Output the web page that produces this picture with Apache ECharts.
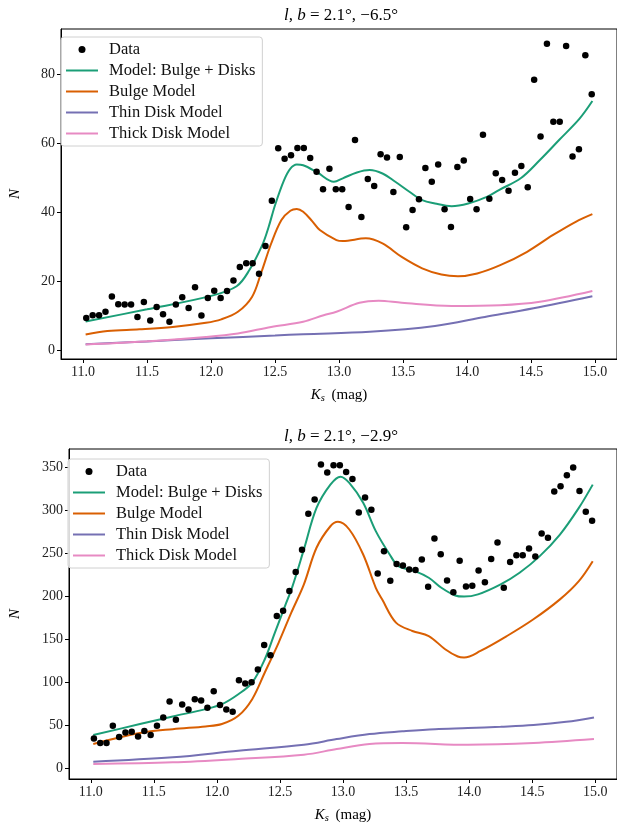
<!DOCTYPE html>
<html>
<head>
<meta charset="utf-8">
<script src="https://cdn.jsdelivr.net/npm/echarts@6/dist/echarts.min.js"></script>
<style>
  html, body { margin: 0; padding: 0; background: #fff; }
  #chart { width: 617px; height: 825px; }
</style>
</head>
<body>
<div id="chart"></div>
<script>
// magnitude bins of the data points (same for both fields)
var ksBins = [];
for (var i = 0; i < 80; i++) ksBins.push(+(11.025 + 0.05 * i).toFixed(3));

// field 1: l,b = 2.1, -6.5
var countsTop = [
  9.4, 10.2, 10.2, 11.2, 15.6, 13.4, 13.3, 13.3, 9.7, 14.0,
  8.7, 12.6, 10.5, 8.3, 13.3, 15.4, 12.3, 18.3, 10.1, 15.2,
  17.3, 15.2, 17.2, 20.3, 24.2, 25.3, 25.3, 22.2, 30.3, 43.4,
  58.6, 55.6, 56.6, 58.7, 58.7, 55.8, 51.8, 46.7, 52.7, 46.7,
  46.7, 41.6, 61.0, 38.7, 49.7, 47.7, 56.9, 55.9, 45.9, 56.1,
  35.7, 40.7, 43.8, 52.9, 48.9, 53.9, 40.9, 35.8, 53.2, 55.1,
  43.9, 40.9, 62.5, 44.0, 51.4, 49.4, 46.3, 51.5, 53.5, 47.3,
  78.5, 62.0, 88.9, 66.3, 66.3, 88.3, 56.2, 58.3, 85.6, 74.3
];
var totalTopK = [11.02, 11.5, 12.0, 12.2, 12.3, 12.4, 12.45, 12.5, 12.57, 12.62, 12.67, 12.72, 12.83, 12.96, 13.03, 13.14, 13.24, 13.34, 13.44, 13.55, 13.65, 13.75, 13.88, 14.01, 14.16, 14.25, 14.42, 14.57, 14.72, 14.88, 14.98];
var totalTop = [8.4, 11.9, 15.8, 18.6, 23.3, 30.5, 35.8, 42.1, 49.3, 52.7, 53.9, 53.7, 51.6, 48.9, 49.9, 51.6, 52.3, 51.3, 48.9, 46.0, 43.6, 42.6, 41.8, 42.6, 44.6, 46.5, 49.9, 55.2, 61.0, 67.2, 72.3];
var bulgeTopK = [11.02, 11.19, 11.44, 11.7, 11.96, 12.08, 12.21, 12.32, 12.39, 12.47, 12.55, 12.62, 12.67, 12.72, 12.79, 12.85, 12.98, 13.03, 13.21, 13.34, 13.49, 13.65, 13.8, 13.93, 14.08, 14.26, 14.47, 14.67, 14.85, 14.98];
var bulgeTop = [4.6, 5.6, 6.1, 6.8, 8.0, 9.0, 11.2, 15.5, 22.3, 31.0, 37.8, 40.5, 41.0, 40.2, 37.5, 34.9, 32.0, 31.7, 32.5, 31.0, 27.1, 23.8, 22.0, 21.5, 22.3, 24.7, 28.6, 33.4, 37.3, 39.5];
var thinTopK = [11.02, 11.5, 12.0, 12.5, 12.72, 13.24, 13.75, 14.14, 14.52, 14.98];
var thinTop = [1.8, 2.6, 3.5, 4.3, 4.7, 5.4, 7.1, 9.7, 12.2, 15.7];
var thickTopK = [11.02, 11.44, 11.96, 12.21, 12.47, 12.72, 12.88, 12.98, 13.16, 13.31, 13.49, 13.88, 14.26, 14.57, 14.98];
var thickTop = [1.7, 2.5, 3.9, 4.9, 6.8, 8.3, 10.2, 11.2, 13.8, 14.4, 13.8, 12.9, 13.1, 14.1, 17.2];

// field 2: l,b = 2.1, -2.9
var countsBottom = [
  34.5, 29.1, 29.1, 49.2, 36.0, 41.5, 42.2, 36.8, 43.0, 38.4,
  49.2, 58.9, 77.5, 56.2, 74.0, 68.2, 80.2, 78.7, 70.1, 89.5,
  73.3, 68.2, 65.5, 102.3, 98.4, 100.0, 114.7, 143.4, 131.4, 177.1,
  183.3, 206.2, 228.3, 254.3, 296.2, 312.8, 353.5, 344.2, 352.7, 352.7,
  345.0, 336.8, 297.7, 315.1, 300.8, 226.7, 252.7, 218.2, 237.6, 236.0,
  231.4, 230.6, 243.0, 211.3, 267.4, 249.2, 218.6, 204.7, 241.5, 211.6,
  212.4, 230.2, 216.3, 243.4, 262.8, 210.1, 239.9, 248.0, 248.0, 255.8,
  246.5, 273.3, 268.2, 322.1, 328.3, 341.1, 350.0, 322.9, 298.5, 288.0
];
var totalBottomK = [11.02, 11.39, 11.65, 11.91, 12.04, 12.17, 12.28, 12.38, 12.46, 12.54, 12.6, 12.69, 12.79, 12.9, 12.98, 13.05, 13.16, 13.26, 13.37, 13.44, 13.57, 13.68, 13.78, 13.89, 13.96, 14.07, 14.25, 14.4, 14.56, 14.72, 14.87, 14.98];
var totalBottom = [38.4, 51.2, 60.1, 68.6, 74.4, 86.0, 99.6, 126.7, 157.8, 188.7, 212, 254.7, 303, 330.2, 339.5, 332.2, 309, 276, 248.8, 235.2, 229.4, 221.7, 210, 201, 199.7, 202.3, 214, 227.5, 246.9, 272, 303.1, 330.2];
var bulgeBottomK = [11.02, 11.39, 11.65, 11.91, 12.04, 12.17, 12.28, 12.38, 12.49, 12.59, 12.69, 12.79, 12.9, 12.96, 13.05, 13.16, 13.26, 13.31, 13.42, 13.55, 13.68, 13.81, 13.91, 13.96, 14.09, 14.3, 14.51, 14.72, 14.87, 14.98];
var bulgeBottom = [27.9, 40.7, 45.3, 48.5, 51.2, 60.8, 80.2, 111.3, 146.2, 181, 214, 256.6, 281.7, 286.8, 277.9, 248.8, 210, 196.5, 169.4, 159.7, 153.8, 138.4, 129.9, 128.7, 136.4, 153.8, 173.3, 196.5, 217.8, 241];
var thinBottomK = [11.02, 11.65, 12.17, 12.69, 12.95, 13.21, 13.47, 13.73, 13.99, 14.25, 14.51, 14.77, 14.99];
var thinBottom = [7.4, 12.4, 20.1, 27.1, 33.7, 39.5, 42.7, 45.3, 46.5, 48.0, 50.0, 53.8, 58.9];
var thickBottomK = [11.02, 11.65, 12.17, 12.69, 12.95, 13.21, 13.47, 13.99, 14.51, 14.99];
var thickBottom = [4.7, 6.6, 10.5, 15.5, 22.1, 27.9, 29.1, 27.1, 29.1, 33.7];

var xTicks = [11, 11.5, 12, 12.5, 13, 13.5, 14, 14.5, 15];
var yTicksTop = [0, 20, 40, 60, 80];
var yTicksBottom = [0, 50, 100, 150, 200, 250, 300, 350];
var seriesNames = ['Data', 'Model: Bulge + Disks', 'Bulge Model', 'Thin Disk Model', 'Thick Disk Model'];
var colors = ['#000000', '#1b9e77', '#d95f02', '#7570b3', '#e78ac3'];

function pairs(xs, ys) {
  return xs.map(function (x, i) { return [x, ys[i]]; });
}

var serif = 'Liberation Serif';
var lineIcon = 'path://M0,0 L32,0 L32,2 L0,2 Z';

function xAxis(idx) {
  return {
    type: 'value', gridIndex: idx, min: 10.8275, max: 15.1725,
    name: '{k|K}{s|s} (mag)', nameLocation: 'middle', nameGap: 27,
    nameTextStyle: {
      fontFamily: serif, fontSize: 15, color: '#000',
      rich: {
        k: { fontFamily: serif, fontStyle: 'italic', fontSize: 15, color: '#000' },
        s: { fontFamily: serif, fontStyle: 'italic', fontSize: 10.5, color: '#000', padding: [7, 3, 0, 0] }
      }
    },
    axisLine: { onZero: false, lineStyle: { color: '#000', width: 1 } },
    axisTick: { customValues: xTicks, length: 4, lineStyle: { color: '#000' } },
    axisLabel: {
      customValues: xTicks, color: '#222', fontFamily: serif, fontSize: 14, margin: 6,
      formatter: function (v) { return v.toFixed(1); }
    },
    splitLine: { show: false }
  };
}

function yAxis(idx, min, max, ticks, gap) {
  return {
    type: 'value', gridIndex: idx, min: min, max: max,
    name: 'N', nameLocation: 'middle', nameGap: gap, nameRotate: 90,
    nameTextStyle: { fontFamily: serif, fontStyle: 'italic', fontSize: 15, color: '#000' },
    axisLine: { show: true, onZero: false, lineStyle: { color: '#000', width: 1 } },
    axisTick: { show: true, customValues: ticks, length: 4, lineStyle: { color: '#000' } },
    axisLabel: { customValues: ticks, color: '#222', fontFamily: serif, fontSize: 14, margin: 6 },
    splitLine: { show: false }
  };
}

function legend(left, top) {
  return {
    orient: 'vertical', left: left, top: top,
    data: seriesNames.map(function (n, k) {
      return k === 0 ? { name: n, icon: 'circle' } : { name: n, icon: lineIcon };
    }),
    itemWidth: 32, itemHeight: 7, itemGap: 4,
    padding: [4, 7, 4, 5],
    backgroundColor: 'rgba(255,255,255,0.85)',
    borderColor: '#d0d0d0', borderWidth: 1, borderRadius: 3,
    selectedMode: false,
    textStyle: { fontFamily: serif, fontSize: 16.5, color: '#111', lineHeight: 16, padding: [0, 0, 0, 6] }
  };
}

function modelLine(name, color, xi, data) {
  return {
    name: name, type: 'line', xAxisIndex: xi, yAxisIndex: xi,
    data: data, symbol: 'none', smooth: 0.35, z: 3,
    lineStyle: { color: color, width: 2 }, itemStyle: { color: color }
  };
}

function dataPoints(xi, counts) {
  return {
    name: 'Data', type: 'scatter', xAxisIndex: xi, yAxisIndex: xi,
    data: pairs(ksBins, counts), symbol: 'circle', symbolSize: 6.5, z: 4,
    itemStyle: { color: '#000', opacity: 1 }
  };
}

function titleText(txt, top) {
  return {
    text: txt, left: 336, top: top, textAlign: 'center',
    textStyle: {
      fontFamily: serif, fontSize: 17, fontWeight: 'normal', color: '#000',
      rich: { i: { fontFamily: serif, fontStyle: 'italic', fontSize: 17, color: '#000' } }
    }
  };
}

var chart = echarts.init(document.getElementById('chart'), null, { renderer: 'canvas' });
chart.setOption({
  animation: false,
  backgroundColor: '#fff',
  title: [
    titleText('{i|l, b} = 2.1°, −6.5°', 2),
    titleText('{i|l, b} = 2.1°, −2.9°', 423)
  ],
  legend: [legend(61, 37), legend(68, 459)],
  grid: [
    { left: 53, top: 29, width: 565, height: 330, show: true, borderColor: '#000', borderWidth: 1 },
    { left: 61, top: 449, width: 558, height: 331, show: true, borderColor: '#000', borderWidth: 1 }
  ],
  xAxis: [xAxis(0), xAxis(1)],
  yAxis: [yAxis(0, -2.5, 93.2, yTicksTop, 38), yAxis(1, -12.8, 371.7, yTicksBottom, 46)],
  series: [
    dataPoints(0, countsTop),
    modelLine(seriesNames[1], colors[1], 0, pairs(totalTopK, totalTop)),
    modelLine(seriesNames[2], colors[2], 0, pairs(bulgeTopK, bulgeTop)),
    modelLine(seriesNames[3], colors[3], 0, pairs(thinTopK, thinTop)),
    modelLine(seriesNames[4], colors[4], 0, pairs(thickTopK, thickTop)),
    dataPoints(1, countsBottom),
    modelLine(seriesNames[1], colors[1], 1, pairs(totalBottomK, totalBottom)),
    modelLine(seriesNames[2], colors[2], 1, pairs(bulgeBottomK, bulgeBottom)),
    modelLine(seriesNames[3], colors[3], 1, pairs(thinBottomK, thinBottom)),
    modelLine(seriesNames[4], colors[4], 1, pairs(thickBottomK, thickBottom))
  ]
});
</script>
</body>
</html>
